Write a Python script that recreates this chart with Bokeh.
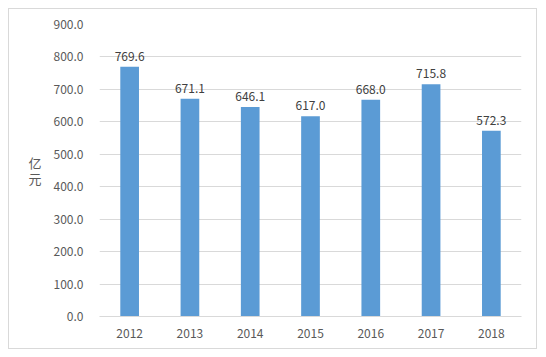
from bokeh.plotting import figure
from bokeh.models import ColumnDataSource, LabelSet, FixedTicker, PrintfTickFormatter, Range1d
from bokeh.core.properties import value
from bokeh.embed import file_html
from bokeh.resources import INLINE

years = ["2012", "2013", "2014", "2015", "2016", "2017", "2018"]
values = [769.6, 671.1, 646.1, 617.0, 668.0, 715.8, 572.3]
labels = ["%.1f" % v for v in values]
y_ticks = [0, 100, 200, 300, 400, 500, 600, 700, 800, 900]
unit_label = "亿\n元"

FONT = "Noto Sans CJK SC"
src = ColumnDataSource(dict(x=years, top=values, lab=labels))

p = figure(x_range=years, y_range=Range1d(0, 900), width=529, height=341,
           output_backend="svg", toolbar_location=None,
           min_border_left=90, min_border_right=17, min_border_top=15, min_border_bottom=34,
           margin=(8, 0, 0, 8),
           styles={"border": "1px solid #D9D9D9", "box-sizing": "border-box"})
p.outline_line_color = None
p.background_fill_color = "white"
p.border_fill_color = "white"

p.vbar(x="x", top="top", width=0.31, source=src, color="#5B9BD5", line_color=None)
p.add_layout(LabelSet(x="x", y="top", text="lab", source=src, y_offset=6,
                      text_align="center", text_baseline="bottom",
                      text_font=value(FONT), text_font_size="12px", text_color="#404040"))

p.yaxis.ticker = FixedTicker(ticks=y_ticks)
p.yaxis.formatter = PrintfTickFormatter(format="%.1f")
p.yaxis.axis_line_color = None
p.yaxis.major_tick_line_color = None
p.yaxis.major_tick_out = 0
p.yaxis.major_tick_in = 0
p.yaxis.minor_tick_line_color = None
p.yaxis.major_label_standoff = 16
p.yaxis.major_label_text_font = FONT
p.yaxis.major_label_text_font_size = "12px"
p.yaxis.major_label_text_color = "#595959"

p.yaxis.axis_label = unit_label
p.yaxis.axis_label_text_font = FONT
p.yaxis.axis_label_text_font_size = "13px"
p.yaxis.axis_label_text_font_style = "normal"
p.yaxis.axis_label_text_color = "#595959"
p.yaxis.axis_label_text_line_height = 0.8
p.yaxis.axis_label_standoff = 9
yax = p.yaxis[0]
if "axis_label_orientation" in yax.properties():
    yax.axis_label_orientation = "horizontal"

p.xaxis.axis_line_color = "#D9D9D9"
p.xaxis.major_tick_line_color = None
p.xaxis.major_tick_out = 0
p.xaxis.major_tick_in = 0
p.xaxis.minor_tick_line_color = None
p.xaxis.major_label_standoff = 12
p.xaxis.major_label_text_font = FONT
p.xaxis.major_label_text_font_size = "12px"
p.xaxis.major_label_text_color = "#595959"

p.xgrid.grid_line_color = None
p.ygrid.grid_line_color = "#D9D9D9"
p.ygrid.ticker = FixedTicker(ticks=y_ticks)

open("out.html", "w").write(file_html(p, INLINE))
